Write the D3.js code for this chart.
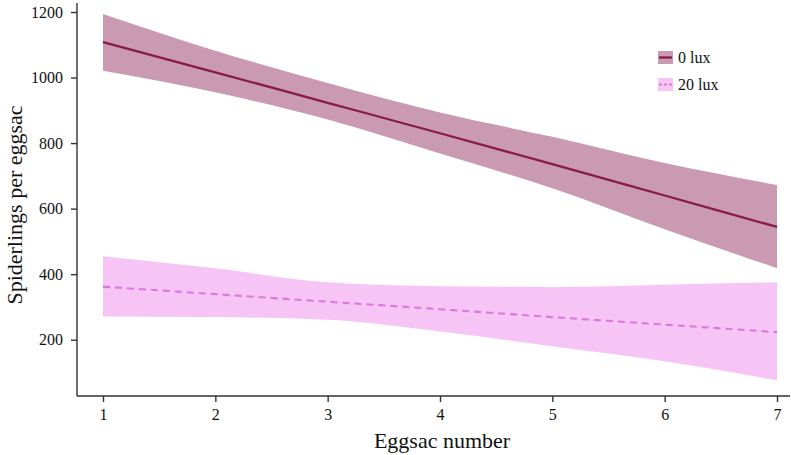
<!DOCTYPE html>
<html>
<head>
<meta charset="utf-8">
<script src="https://cdn.jsdelivr.net/npm/d3@7/dist/d3.min.js"></script>
<style>
  body { margin: 0; background: #fff; }
  svg { display: block; }
  .axis text { font-family: "Liberation Serif", "Times New Roman", serif; font-size: 16px; fill: #111; }
  .axis line, .axis path { stroke: #333; stroke-width: 1.4; }
  .title { font-family: "Liberation Serif", "Times New Roman", serif; font-size: 22px; fill: #111; }
  .legend text { font-family: "Liberation Serif", "Times New Roman", serif; font-size: 16px; fill: #111; }
</style>
</head>
<body>
<svg id="chart" width="791" height="455"></svg>
<script>
// values
var eggsac = [1, 2, 3, 4, 5, 6, 7];
var lux0Fit = [1108, 1016, 923, 830, 736, 640, 544];
var lux0Upper = [1194, 1082, 983, 893, 819, 739, 672];
var lux0Lower = [1021, 955, 872, 768, 662, 537, 418];
var lux20Fit = [362, 339, 316, 293, 269, 246, 223];
var lux20Upper = [455, 418, 375, 363, 361, 368, 375];
var lux20Lower = [271, 269, 261, 225, 180, 134, 76];
var yTicks = [200, 400, 600, 800, 1000, 1200];
var xTicks = [1, 2, 3, 4, 5, 6, 7];
var legendLabels = ["0 lux", "20 lux"];

var svg = d3.select("#chart");

var x = d3.scaleLinear().domain([1, 7]).range([103, 777]);
var y = d3.scaleLinear().domain([200, 1200]).range([339.7, 12]);

var axisX = 77, axisY = 396;

function rows(fit, up, lo){
  return eggsac.map(function(e, i){ return {e: e, fit: fit[i], up: up[i], lo: lo[i]}; });
}

var series = [
  {name: legendLabels[0], data: rows(lux0Fit, lux0Upper, lux0Lower), band: "#c99ab1", line: "#8a1a4a", dash: null, width: 2.3},
  {name: legendLabels[1], data: rows(lux20Fit, lux20Upper, lux20Lower), band: "#f6c5f6", line: "#dc78dc", dash: "7,5", width: 2.1}
];

var area = d3.area()
  .curve(d3.curveMonotoneX)
  .x(function(d){ return x(d.e); })
  .y0(function(d){ return y(d.lo); })
  .y1(function(d){ return y(d.up); });

var line = d3.line()
  .curve(d3.curveMonotoneX)
  .x(function(d){ return x(d.e); })
  .y(function(d){ return y(d.fit); });

// bands first, then lines on top
series.slice().reverse().forEach(function(s){
  svg.append("path").datum(s.data)
    .attr("d", area)
    .attr("fill", s.band);
});
series.forEach(function(s){
  svg.append("path").datum(s.data)
    .attr("d", line)
    .attr("fill", "none")
    .attr("stroke", s.line)
    .attr("stroke-width", s.width)
    .attr("stroke-dasharray", s.dash);
});

// axes
var gy = svg.append("g").attr("class", "axis")
  .attr("transform", "translate(" + axisX + ",0)")
  .call(d3.axisLeft(y).tickValues(yTicks).tickSize(6).tickSizeOuter(0).tickPadding(8).tickFormat(d3.format("d")));
gy.select(".domain").remove();
gy.append("line").attr("x1", 0).attr("x2", 0).attr("y1", 3).attr("y2", axisY);

var gx = svg.append("g").attr("class", "axis")
  .attr("transform", "translate(0," + axisY + ")")
  .call(d3.axisBottom(x).tickValues(xTicks).tickSize(6).tickSizeOuter(0).tickPadding(7).tickFormat(d3.format("d")));
gx.select(".domain").remove();
gx.append("line").attr("x1", axisX).attr("x2", 790).attr("y1", 0).attr("y2", 0);

// axis titles
svg.append("text").attr("class", "title")
  .attr("x", 442).attr("y", 448)
  .attr("text-anchor", "middle")
  .text("Eggsac number");

svg.append("text").attr("class", "title")
  .attr("transform", "translate(22,205) rotate(-90)")
  .attr("text-anchor", "middle")
  .text("Spiderlings per eggsac");

// legend
var legend = svg.append("g").attr("class", "legend").attr("transform", "translate(658,51)");
series.forEach(function(s, i){
  var g = legend.append("g").attr("transform", "translate(0," + (i * 27) + ")");
  g.append("rect").attr("width", 15).attr("height", 13).attr("fill", s.band);
  g.append("line").attr("x1", 1).attr("x2", 14).attr("y1", 6.5).attr("y2", 6.5)
    .attr("stroke", s.line).attr("stroke-width", s.width)
    .attr("stroke-dasharray", s.dash ? "3,2" : null);
  g.append("text").attr("x", 20).attr("y", 12).text(s.name);
});
</script>
</body>
</html>
